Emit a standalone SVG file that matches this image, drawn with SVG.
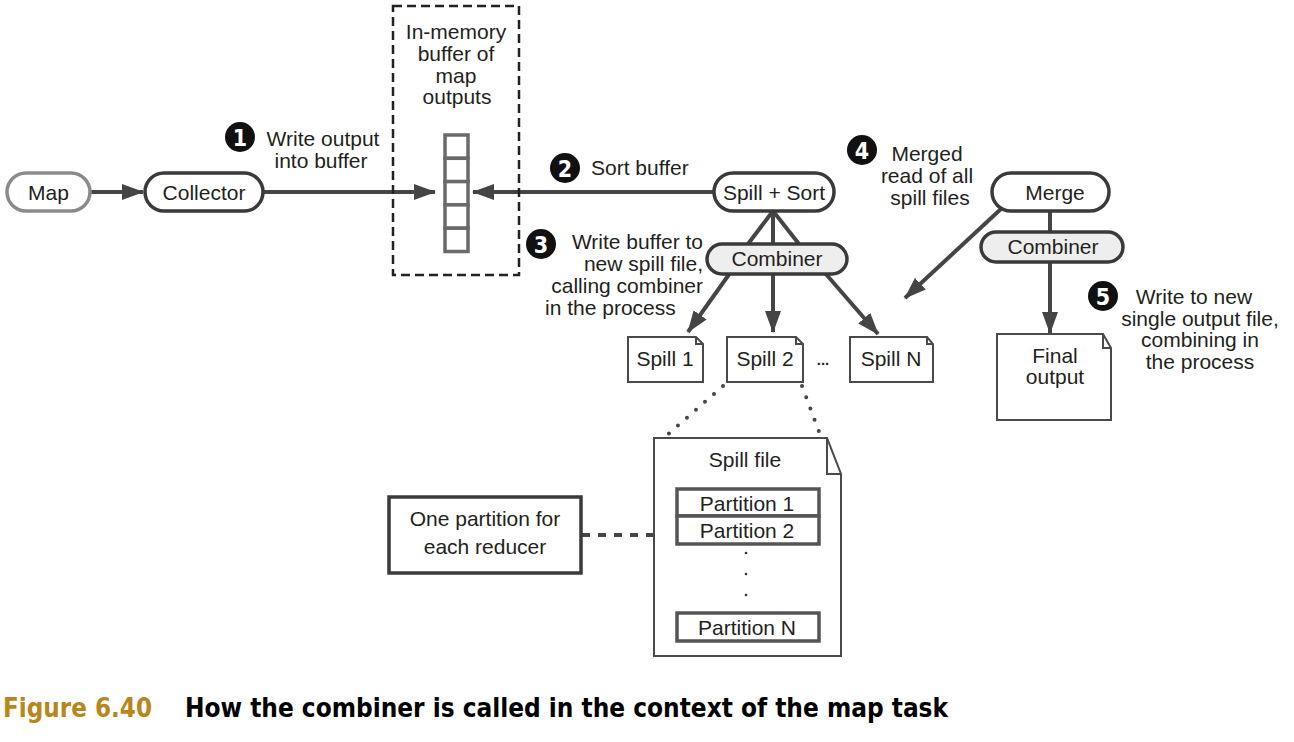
<svg xmlns="http://www.w3.org/2000/svg" width="1294" height="742" viewBox="0 0 1294 742">
  <defs>
    <style>
      .t { font-family: "Liberation Sans", Arial, sans-serif; font-size: 21px; fill: #231f20; }
      .c { text-anchor: middle; }
      .e { text-anchor: end; }
      .num { font-family: "DejaVu Sans Condensed", "Liberation Sans Narrow", "Liberation Sans", sans-serif; font-weight: bold; font-size: 23px; fill: #ffffff; text-anchor: middle; }
      .pill { fill: #ffffff; stroke: #3a3a3a; stroke-width: 3.5; }
      .pill-light { fill: #ffffff; stroke: #8a8a8a; stroke-width: 3.5; }
      .comb { fill: #eeeeee; stroke: #3a3a3a; stroke-width: 3.5; }
      .doc { fill: #ffffff; stroke: #4a4a4a; stroke-width: 2; stroke-linejoin: miter; }
      .fold { fill: none; stroke: #4a4a4a; stroke-width: 2; }
      .cell { fill: #ffffff; stroke: #6a6a6a; stroke-width: 3.5; }
      .part { fill: #ffffff; stroke: #555555; stroke-width: 3.5; }
      .box { fill: #ffffff; stroke: #3a3a3a; stroke-width: 3.5; }
      .wire { fill: none; stroke: #454545; stroke-width: 4; }
      .arrow { fill: none; stroke: #454545; stroke-width: 4; marker-end: url(#head); }
      .dots { fill: none; stroke: #454545; stroke-width: 4; stroke-linecap: round; stroke-dasharray: 0 12; }
      .dash { fill: none; stroke: #454545; stroke-width: 4; stroke-dasharray: 8 8; }
      .badge { fill: #111111; }
    </style>
    <marker id="head" markerUnits="userSpaceOnUse" markerWidth="22" markerHeight="16" refX="21" refY="8" orient="auto">
      <path d="M0,0 L22,8 L0,16 Z" fill="#454545"/>
    </marker>
  </defs>

  <rect x="0" y="0" width="1294" height="742" fill="#ffffff"/>

  <!-- connectors -->
  <g id="connectors">
    <line class="arrow" x1="90" y1="192" x2="143" y2="192"/>
    <line class="arrow" x1="263" y1="192" x2="435" y2="192"/>
    <line class="arrow" x1="715" y1="192" x2="473" y2="192"/>
    <line class="wire" x1="773" y1="211" x2="748" y2="244"/>
    <line class="wire" x1="773" y1="211" x2="773" y2="244"/>
    <line class="wire" x1="773" y1="211" x2="799" y2="244"/>
    <line class="arrow" x1="730" y1="273" x2="688" y2="332"/>
    <line class="arrow" x1="773" y1="275" x2="773" y2="332"/>
    <line class="arrow" x1="825" y1="273" x2="878" y2="334"/>
    <line class="arrow" x1="1002" y1="208" x2="905" y2="298"/>
    <line class="wire" x1="1050" y1="212" x2="1050" y2="232"/>
    <line class="arrow" x1="1050" y1="262" x2="1050" y2="333"/>
    <line class="dots" x1="723" y1="386" x2="665" y2="437"/>
    <line class="dots" x1="802" y1="386" x2="821" y2="437"/>
    <line class="dash" x1="582" y1="535" x2="654" y2="535"/>
  </g>

  <!-- in-memory buffer -->
  <g id="buffer">
    <rect x="393" y="6" width="126" height="269" fill="none" stroke="#222222" stroke-width="2.5" stroke-dasharray="9 5"/>
    <text class="t c" x="456" y="39">In-memory</text>
    <text class="t c" x="456" y="61">buffer of</text>
    <text class="t c" x="456" y="83">map</text>
    <text class="t c" x="457" y="104">outputs</text>
    <rect class="cell" x="445" y="135" width="23" height="23.3"/>
    <rect class="cell" x="445" y="158.3" width="23" height="23.3"/>
    <rect class="cell" x="445" y="181.6" width="23" height="23.3"/>
    <rect class="cell" x="445" y="204.9" width="23" height="23.3"/>
    <rect class="cell" x="445" y="228.2" width="23" height="23.3"/>
  </g>

  <g id="map">
    <rect class="pill-light" x="7" y="173" width="83" height="38" rx="19"/>
    <text class="t c" x="48.5" y="199.5">Map</text>
  </g>

  <g id="collector">
    <rect class="pill" x="145" y="173" width="118" height="38" rx="19"/>
    <text class="t c" x="204" y="199.5">Collector</text>
  </g>

  <g id="spill-sort">
    <rect class="pill" x="714" y="173" width="120" height="38" rx="19"/>
    <text class="t c" x="774" y="199.5">Spill + Sort</text>
  </g>

  <g id="combiner-spill">
    <rect class="comb" x="707" y="244" width="140" height="30" rx="15"/>
    <text class="t c" x="777" y="266">Combiner</text>
  </g>

  <g id="spill-1">
    <path class="doc" d="M628,337 H696 L703,344 V382 H628 Z"/>
    <path class="fold" d="M696,337 V344 H703"/>
    <text class="t c" x="665" y="366">Spill 1</text>
  </g>

  <g id="spill-2">
    <path class="doc" d="M727,337 H796 L803,344 V382 H727 Z"/>
    <path class="fold" d="M796,337 V344 H803"/>
    <text class="t c" x="765" y="366">Spill 2</text>
  </g>

  <text class="t c" x="823" y="365" style="font-size:15px;font-weight:bold">...</text>

  <g id="spill-n">
    <path class="doc" d="M850,337 H927 L933,344 V382 H850 Z"/>
    <path class="fold" d="M927,337 V344 H933"/>
    <text class="t c" x="891" y="366">Spill N</text>
  </g>

  <g id="merge">
    <rect class="pill" x="992" y="173" width="117" height="38" rx="19"/>
    <text class="t c" x="1055" y="199.5">Merge</text>
  </g>

  <g id="combiner-merge">
    <rect class="comb" x="981" y="232" width="142" height="30" rx="15"/>
    <text class="t c" x="1053" y="254">Combiner</text>
  </g>

  <g id="final-output">
    <path class="doc" d="M997,334 H1103 L1111,348 V420 H997 Z"/>
    <path class="fold" d="M1103,334 V348 H1111"/>
    <text class="t c" x="1055" y="363">Final</text>
    <text class="t c" x="1055" y="384">output</text>
  </g>

  <g id="spill-file">
    <path class="doc" d="M654,438 H827 L841,474 V656 H654 Z"/>
    <path class="fold" d="M827,438 V474 H841"/>
    <text class="t c" x="745" y="467">Spill file</text>
    <rect class="part" x="677" y="489" width="142" height="27"/>
    <text class="t c" x="747" y="511">Partition 1</text>
    <rect class="part" x="677" y="516" width="142" height="28"/>
    <text class="t c" x="747" y="538">Partition 2</text>
    <circle cx="746" cy="553" r="1.3" fill="#333"/>
    <circle cx="746" cy="574" r="1.3" fill="#333"/>
    <circle cx="746" cy="595" r="1.3" fill="#333"/>
    <rect class="part" x="677" y="613" width="142" height="28"/>
    <text class="t c" x="747" y="635">Partition N</text>
  </g>

  <g id="partition-note">
    <rect class="box" x="389" y="497" width="192" height="76"/>
    <text class="t c" x="485" y="526">One partition for</text>
    <text class="t c" x="485" y="554">each reducer</text>
  </g>

  <!-- numbered step labels -->
  <g id="step-1">
    <circle class="badge" cx="240" cy="137" r="15"/>
    <text class="num" x="240" y="145.5">1</text>
    <text class="t c" x="323" y="146">Write output</text>
    <text class="t c" x="321" y="168">into buffer</text>
  </g>

  <g id="step-2">
    <circle class="badge" cx="565" cy="168" r="15"/>
    <text class="num" x="565" y="176.5">2</text>
    <text class="t" x="591" y="175">Sort buffer</text>
  </g>

  <g id="step-3">
    <circle class="badge" cx="541" cy="244" r="15"/>
    <text class="num" x="541" y="252.5">3</text>
    <text class="t e" x="703" y="249">Write buffer to</text>
    <text class="t e" x="703" y="271">new spill file,</text>
    <text class="t e" x="703" y="293">calling combiner</text>
    <text class="t" x="545" y="315">in the process</text>
  </g>

  <g id="step-4">
    <circle class="badge" cx="862" cy="150" r="15"/>
    <text class="num" x="862" y="158.5">4</text>
    <text class="t c" x="927" y="161">Merged</text>
    <text class="t c" x="927" y="183">read of all</text>
    <text class="t c" x="930" y="205">spill files</text>
  </g>

  <g id="step-5">
    <circle class="badge" cx="1103" cy="296" r="15"/>
    <text class="num" x="1103" y="304.5">5</text>
    <text class="t c" x="1194" y="304">Write to new</text>
    <text class="t c" x="1200" y="326">single output file,</text>
    <text class="t c" x="1200" y="347">combining in</text>
    <text class="t c" x="1200" y="369">the process</text>
  </g>

  <!-- caption -->
  <g id="caption" style="font-family: 'Liberation Sans Narrow', 'DejaVu Sans Condensed', 'Liberation Sans', sans-serif; font-weight: bold; font-size: 26px;">
    <text x="3" y="717" fill="#b8861b" textLength="149" lengthAdjust="spacingAndGlyphs">Figure 6.40</text>
    <text x="185" y="717" fill="#000000" textLength="763" lengthAdjust="spacingAndGlyphs">How the combiner is called in the context of the map task</text>
  </g>
</svg>
